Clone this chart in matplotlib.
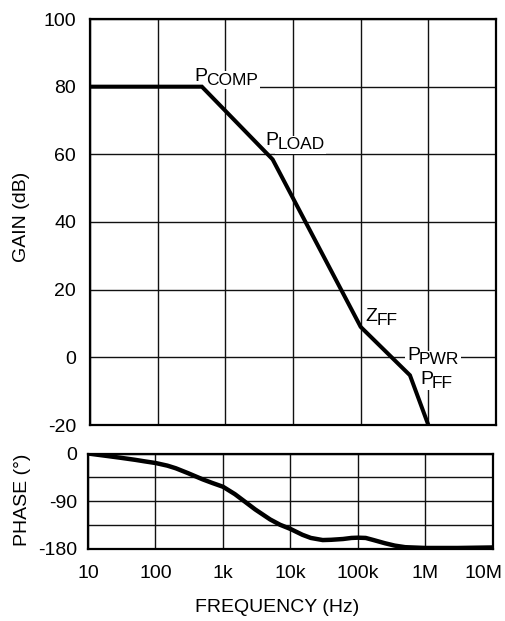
import numpy as np
import matplotlib
matplotlib.use('Agg')
import matplotlib.pyplot as plt
import matplotlib.transforms as mtransforms

plt.rcParams['font.family'] = ['Liberation Sans', 'DejaVu Sans']
plt.rcParams['axes.unicode_minus'] = False

# gain asymptotes (corner points)
gain_freq = [10, 450, 5000, 1.0e5, 5.35e5, 1.0e6]
gain_db = [80, 80, 58.5, 9, -5.3, -20]

# phase curve
phase_freq = [10, 20, 30, 50, 70, 100, 150, 200, 300, 500, 700,
              1e3, 1.5e3, 2e3, 3e3, 5e3, 7e3, 1e4, 1.5e4, 2e4, 3e4, 4e4,
              6e4, 8e4, 1e5, 1.3e5, 1.7e5, 2.5e5, 3.5e5, 5e5, 1e6, 3e6, 1e7]
phase_deg = [0, -5, -8, -12, -15, -18, -23, -28, -37, -49, -56,
             -63, -77, -89, -106, -125, -135, -143, -154, -160, -164, -163.5,
             -162, -160, -159.5, -160, -164, -170, -174.5, -177.5, -179, -179, -178]

freq_ticks = [10, 100, 1e3, 1e4, 1e5, 1e6, 1e7]
freq_labels = ['10', '100', '1k', '10k', '100k', '1M', '10M']
gain_ticks = [-20, 0, 20, 40, 60, 80, 100]
phase_ticks = [-180, -90, 0]
phase_minor = [-135, -45]

# labels: (letter, subscript, corner index, offset in px)
labels = [
    ('P', 'COMP', 1, (-7, 6)),
    ('P', 'LOAD', 2, (-7, 14)),
    ('Z', 'FF', 3, (5, 6)),
    ('P', 'PWR', 4, (-3, 15)),
    ('P', 'FF', 4, (10, -9)),
]
letter_w = {'P': 11.5, 'Z': 11}

W, H = 506, 621
fig = plt.figure(figsize=(W / 100, H / 100), dpi=100)

ax1 = fig.add_axes([90 / W, 1 - 425 / H, 406 / W, 406 / H])
ax2 = fig.add_axes([88 / W, 1 - 548.5 / H, 405 / W, 95 / H])

fs = 14
for ax in (ax1, ax2):
    ax.set_xscale('log')
    ax.set_xlim(10, 1e7)
    ax.set_xticks(freq_ticks)
    ax.minorticks_off()
    ax.grid(True, which='both', color='#111111', lw=1.0)
    ax.set_axisbelow(True)
    ax.tick_params(which='both', length=0, labelsize=fs)
    for s in ax.spines.values():
        s.set_linewidth(1.6)

ax1.plot(gain_freq, gain_db, color='black', lw=2.9, solid_joinstyle='miter', zorder=5)
ax1.set_ylim(-20, 100)
ax1.set_yticks(gain_ticks)
ax1.set_xticklabels([])
ax1.tick_params(axis='y', pad=10)

box = dict(boxstyle='square,pad=0.1', fc='white', ec='none')
for letter, sub, i, (dx, dy) in labels:
    pt = (gain_freq[i], gain_db[i])
    parts = [(letter, 14, dx, dy), (sub, 12.5, dx + letter_w[letter], dy - 4)]
    for s, size, ox, oy in parts:
        # white patch first, then the black text over both patches
        ax1.annotate(s, pt, xytext=(ox * 0.72, oy * 0.72), textcoords='offset points',
                     fontsize=size, ha='left', va='baseline', color='white',
                     bbox=box, zorder=3.5)
        ax1.annotate(s, pt, xytext=(ox * 0.72, oy * 0.72), textcoords='offset points',
                     fontsize=size, ha='left', va='baseline', color='black', zorder=4)

ax2.plot(phase_freq, phase_deg, color='black', lw=3.2, zorder=3)
ax2.set_ylim(-180, 0)
ax2.set_yticks(phase_ticks)
ax2.set_yticks(phase_minor, minor=True)
ax2.set_xticklabels(freq_labels)
ax2.tick_params(axis='y', which='both', pad=8)
ax2.tick_params(axis='x', pad=12)
ax2.grid(True, which='minor', axis='y', color='#111111', lw=1.0)

# last frequency label sits a little left of its gridline
last = ax2.get_xticklabels()[-1]
last.set_transform(last.get_transform() + mtransforms.ScaledTranslation(-9 / 100, 0, fig.dpi_scale_trans))

fig.text(22 / W, 1 - 217 / H, 'GAIN (dB)', rotation=90, ha='center', va='center', fontsize=fs)
fig.text(23 / W, 1 - 500 / H, 'PHASE (°)', rotation=90, ha='center', va='center', fontsize=fs)
fig.text(277 / W, 1 - 608 / H, 'FREQUENCY (Hz)', ha='center', va='center', fontsize=fs)

fig.savefig('out.png', dpi=100)
